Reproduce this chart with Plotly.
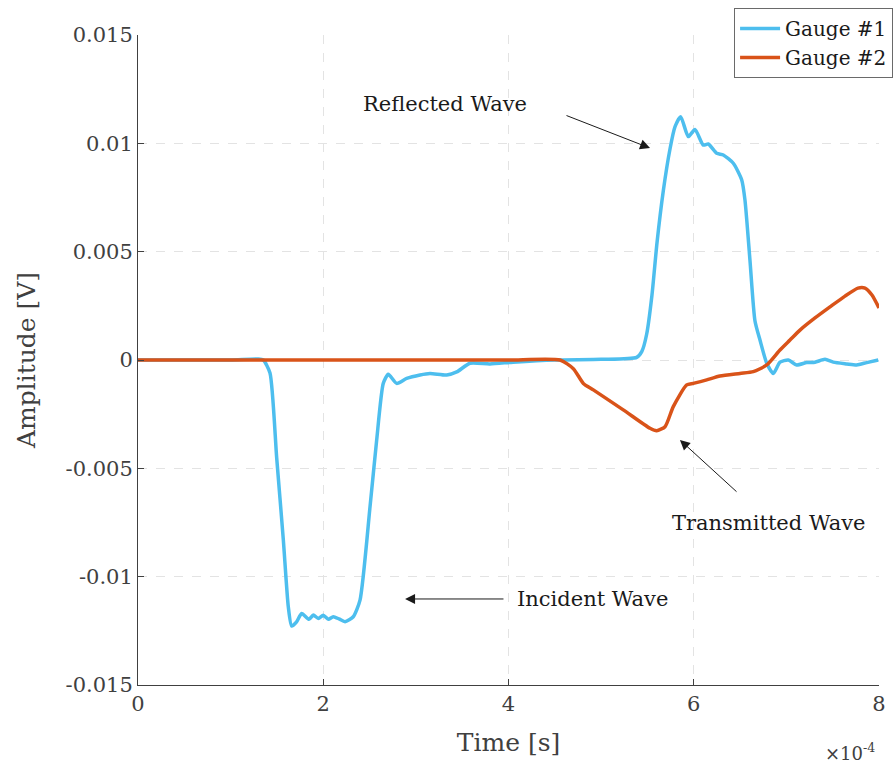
import plotly.graph_objects as go

# Time in units of 1e-4 s
g1_t = [0.0, 0.5, 1.0, 1.30, 1.353, 1.425, 1.497, 1.569, 1.623, 1.659, 1.710, 1.767, 1.846, 1.893,
        1.947, 2.000, 2.055, 2.108, 2.170, 2.235, 2.324, 2.397, 2.505, 2.577, 2.648, 2.702,
        2.793, 2.901, 3.045, 3.152, 3.333, 3.441, 3.584, 3.800, 4.049, 4.500, 5.000, 5.384,
        5.440, 5.492, 5.549, 5.603, 5.671, 5.744, 5.798, 5.859, 5.941, 6.013, 6.103, 6.157, 6.248,
        6.319, 6.427, 6.518, 6.553, 6.607, 6.661, 6.715, 6.788, 6.859, 6.931, 7.021, 7.111,
        7.219, 7.309, 7.417, 7.506, 7.651, 7.759, 7.867, 7.992]
g1_v = [0.0, 0.0, 0.0, 0.00005, 0.0, -0.0006, -0.0045, -0.0083, -0.0114, -0.01228, -0.0121, -0.0117,
        -0.01197, -0.01177, -0.01193, -0.01178, -0.01197, -0.01185, -0.01195, -0.01208, -0.01185,
        -0.01108, -0.00677, -0.00369, -0.00108, -0.00066, -0.00108, -0.00085, -0.00069, -0.00062,
        -0.00069, -0.00055, -0.00015, -0.00018, -0.0001, 0.0, 0.00003, 0.00012,
        0.0004, 0.0012, 0.0030, 0.0054, 0.0078, 0.00975, 0.01077, 0.01123, 0.01031, 0.01064, 0.00992,
        0.00997, 0.00954, 0.00946, 0.00908, 0.00831, 0.00738, 0.0046, 0.0018, 0.00092, -0.00015,
        -0.00062, -0.0001, 0.0, -0.00023, -0.00012, -0.0001, 0.00003, -0.0001, -0.00018,
        -0.00023, -0.00012, 0.0]

g2_t = [0.0, 1.0, 2.0, 3.0, 4.0, 4.556, 4.700, 4.808, 4.916, 5.239, 5.528, 5.600, 5.690,
        5.779, 5.924, 5.995, 6.140, 6.283, 6.499, 6.643, 6.788, 6.931, 7.039, 7.147, 7.309,
        7.471, 7.633, 7.773, 7.849, 7.924, 8.0]
g2_v = [0.0, 0.0, 0.0, 0.0, 0.0, 0.0, -0.0004, -0.00108, -0.00138, -0.0023, -0.00315, -0.00326,
        -0.00308, -0.00215, -0.00115, -0.00108, -0.00092, -0.00074, -0.00062, -0.00054,
        -0.00023, 0.00046, 0.00092, 0.00138, 0.00194, 0.00245, 0.00295, 0.00332, 0.00332,
        0.00300, 0.00240]

x_ticks = [0, 2, 4, 6, 8]
y_ticks = [0.015, 0.01, 0.005, 0, -0.005, -0.01, -0.015]
y_labels = ["0.015", "0.01", "0.005", "0", "-0.005", "-0.01", "-0.015"]

FONT = "DejaVu Serif"
GREY = "#404040"
DARK = "#1a1a1a"

fig = go.Figure()
fig.add_trace(go.Scatter(x=g1_t, y=g1_v, mode="lines", name="Gauge #1",
                         line=dict(color="#4DBEEE", width=3.5, shape="spline", smoothing=0.6)))
fig.add_trace(go.Scatter(x=g2_t, y=g2_v, mode="lines", name="Gauge #2",
                         line=dict(color="#D95319", width=3.5, shape="spline", smoothing=0.6)))

arrows = [
    dict(x=5.528, y=0.00978, ax=4.61, ay=0.01131),
    dict(x=5.851, y=-0.00369, ax=6.478, ay=-0.00614),
    dict(x=2.883, y=-0.01103, ax=3.962, ay=-0.01103),
]
for a in arrows:
    fig.add_annotation(x=a["x"], y=a["y"], ax=a["ax"], ay=a["ay"], xref="x", yref="y",
                       axref="x", ayref="y", text="", showarrow=True, arrowhead=2,
                       arrowsize=2, arrowwidth=1, arrowcolor=DARK)

labels = [
    ("Reflected Wave", 3.315, 0.01180),
    ("Transmitted Wave", 6.812, -0.00753),
    ("Incident Wave", 4.903, -0.01103),
]
for txt, x, y in labels:
    fig.add_annotation(x=x, y=y, xref="x", yref="y", text=txt, showarrow=False,
                       font=dict(family=FONT, size=21, color=DARK))

fig.add_annotation(x=0.997, y=-0.103, xref="paper", yref="paper", xanchor="right",
                   yanchor="middle", text="×10<sup>-4</sup>", showarrow=False,
                   font=dict(family=FONT, size=18, color=GREY))

fig.update_layout(
    width=894, height=765,
    margin=dict(l=138, r=15, t=35, b=80, autoexpand=False),
    paper_bgcolor="white", plot_bgcolor="white",
    font=dict(family=FONT, color=GREY),
    showlegend=True,
    legend=dict(x=1.019, y=1.0415, xanchor="right", yanchor="top",
                bgcolor="white", bordercolor="#6a6a6a", borderwidth=1,
                tracegroupgap=0, itemwidth=40,
                font=dict(family=FONT, size=20, color=DARK)),
    xaxis=dict(range=[0, 8], tickvals=x_ticks, ticktext=[str(v) for v in x_ticks],
               showgrid=True, gridcolor="#e3e3e3", griddash="dash", gridwidth=1,
               zeroline=False, showline=True, linecolor=GREY, linewidth=1,
               ticks="inside", ticklen=6, tickcolor=GREY,
               tickfont=dict(family=FONT, size=21, color=GREY),
               title=dict(text="Time [s]", font=dict(family=FONT, size=25, color=GREY), standoff=18)),
    yaxis=dict(range=[-0.015, 0.015], tickvals=y_ticks, ticktext=y_labels,
               showgrid=True, gridcolor="#e3e3e3", griddash="dash", gridwidth=1,
               zeroline=False, showline=True, linecolor=GREY, linewidth=1,
               ticks="inside", ticklen=6, tickcolor=GREY,
               tickfont=dict(family=FONT, size=21, color=GREY),
               title=dict(text="Amplitude [V]", font=dict(family=FONT, size=25, color=GREY), standoff=22)),
)

fig.write_html("out.html")
